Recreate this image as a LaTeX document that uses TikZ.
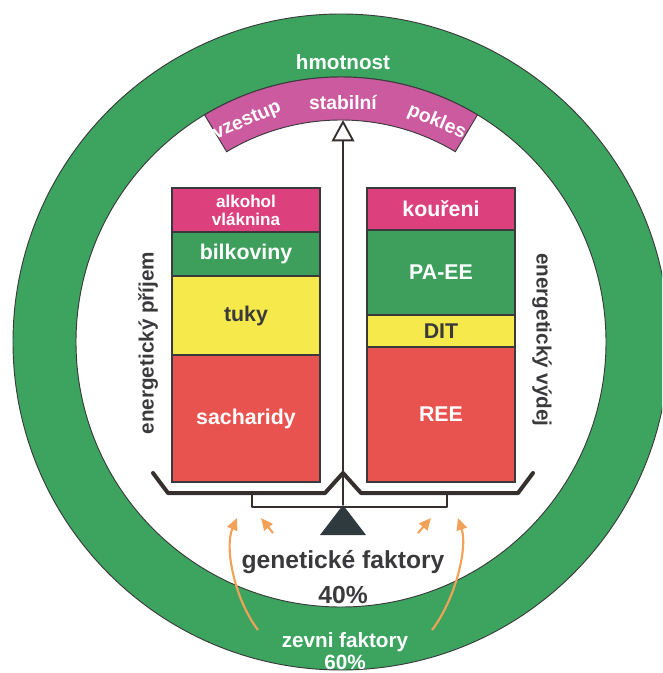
\documentclass[tikz,border=0pt]{standalone}
\usepackage{fontspec}
\setmainfont{Liberation Sans}
\usepackage{xcolor}
\usepackage{tikz}
\usetikzlibrary{arrows.meta,calc,positioning}
\definecolor{ringgreen}{HTML}{3DA45F}
\definecolor{boxgreen}{HTML}{3E9F5C}
\definecolor{arcpink}{HTML}{CB5A9F}
\definecolor{boxpink}{HTML}{DC417E}
\definecolor{boxyellow}{HTML}{F5E94C}
\definecolor{boxred}{HTML}{E8524F}
\definecolor{inkgray}{HTML}{3A3A3C}
\definecolor{beamdark}{HTML}{352F2E}
\definecolor{fulcrumgray}{HTML}{2E3A3D}
\definecolor{faktor}{HTML}{F2A158}
\tikzset{
  seg/.style = {rectangle, draw=inkgray, line width=0.8pt, minimum width=111pt, inner sep=0pt, outer sep=0pt, align=center, text=white, font=\bfseries\fontsize{16}{18}\selectfont},
  darkseg/.style = {seg, text=inkgray},
  ringtext/.style = {text=white, font=\bfseries\fontsize{15.5}{17}\selectfont, inner sep=0pt},
  arctext/.style = {ringtext, font=\bfseries\fontsize{14.5}{16}\selectfont},
  sidetext/.style = {text=inkgray, font=\bfseries\fontsize{15.5}{17}\selectfont, inner sep=0pt},
  beam/.style = {draw=beamdark, line width=3pt, line join=round, line cap=round},
  factor/.style = {draw=faktor, line width=1.6pt, -{Triangle[length=9pt,width=8pt]}}
}

\begin{document}
\begin{tikzpicture}[x=0.75pt,y=-0.75pt]
  \useasboundingbox (0,0) rectangle (662,673);
  \clip (0,0) rectangle (662,673);
  \coordinate (c) at (341,342);

  % green ring and pink scale
  \filldraw[fill=ringgreen, draw=inkgray, line width=0.7pt, even odd rule]
    (c) circle[radius=328] (c) circle[radius=265];
  \filldraw[fill=arcpink, draw=inkgray, line width=0.7pt]
    ($(c)+(-121:265)$) arc[start angle=-121, end angle=-59, radius=265]
    -- ($(c)+(-59:222)$) arc[start angle=-59, end angle=-121, radius=222] -- cycle;
  \node[ringtext] (hmot) at (343,62) {hmotnost};
  \node[arctext, rotate=23] (vzes) at ($(c)+(-113:240)$) {vzestup};
  \node[arctext] (stab) at (343,103) {stabilní};
  \node[arctext, rotate=-23] (pokl) at ($(c)+(-66.5:240)$) {pokles};

  % energeticky prijem
  \node[seg, fill=boxpink, minimum height=33pt, anchor=north west,
        font=\bfseries\fontsize{12.8}{13.5}\selectfont] (alk) at (172,188) {alkohol\\vláknina};
  \node[seg, fill=boxgreen, minimum height=33pt, below=0pt of alk] (bil) {bilkoviny};
  \node[darkseg, fill=boxyellow, minimum height=59.25pt, below=0pt of bil] (tuk) {tuky};
  \node[seg, fill=boxred, minimum height=95.25pt, below=0pt of tuk] (sach) {sacharidy};

  % energeticky vydej
  \node[seg, fill=boxpink, minimum height=31.5pt, anchor=north west] (kour) at (367,188) {kouřeni};
  \node[seg, fill=boxgreen, minimum height=63.75pt, below=0pt of kour] (paee) {PA-EE};
  \node[darkseg, fill=boxyellow, minimum height=24pt, below=0pt of paee] (dit) {DIT};
  \node[seg, fill=boxred, minimum height=101.25pt, below=0pt of dit] (ree) {REE};

  \node[sidetext, rotate=90] (prij) at (148,343) {energetický příjem};
  \node[sidetext, rotate=-90] (vydej) at (542,340) {energetický výdej};

  % vahy
  \coordinate (fulcrum) at (343,505);
  \coordinate (pointer) at (343,120);
  \draw[draw=beamdark, line width=1.8pt, -{Triangle[open, length=16pt, width=17pt, line width=1.4pt]}]
    (fulcrum) -- (pointer);
  \draw[beam] (153,473) -- (168,493) -- (325,493) -- (343,473) -- (361,493) -- (518,493) -- (533,473);
  \draw[beam, line width=2.2pt] (252,493) -- (252,507) -- (447,507) -- (447,493);
  \fill[fulcrumgray] (fulcrum) -- (366,535) -- (320,535) -- cycle;

  % faktory
  \node[text=inkgray, align=center, font=\bfseries\fontsize{18.5}{26}\selectfont] (gen) at (343,577) {genetické faktory\\40\%};
  \node[ringtext, align=center, font=\bfseries\fontsize{15.5}{16.5}\selectfont] (zev) at (345,651) {zevni faktory\\60\%};
  \coordinate (outL) at (258,630);
  \coordinate (outLtip) at (237,518);
  \coordinate (outR) at (432,630);
  \coordinate (outRtip) at (458,518);
  \coordinate (inL) at (273,533);
  \coordinate (inLtip) at (261,518);
  \coordinate (inR) at (418,533);
  \coordinate (inRtip) at (431,518);
  \draw[factor] (outL) .. controls (235,600) and (224,548) .. (outLtip);
  \draw[factor] (outR) .. controls (455,600) and (468,548) .. (outRtip);
  \draw[factor] (inL) -- (inLtip);
  \draw[factor] (inR) -- (inRtip);
\end{tikzpicture}
\end{document}
